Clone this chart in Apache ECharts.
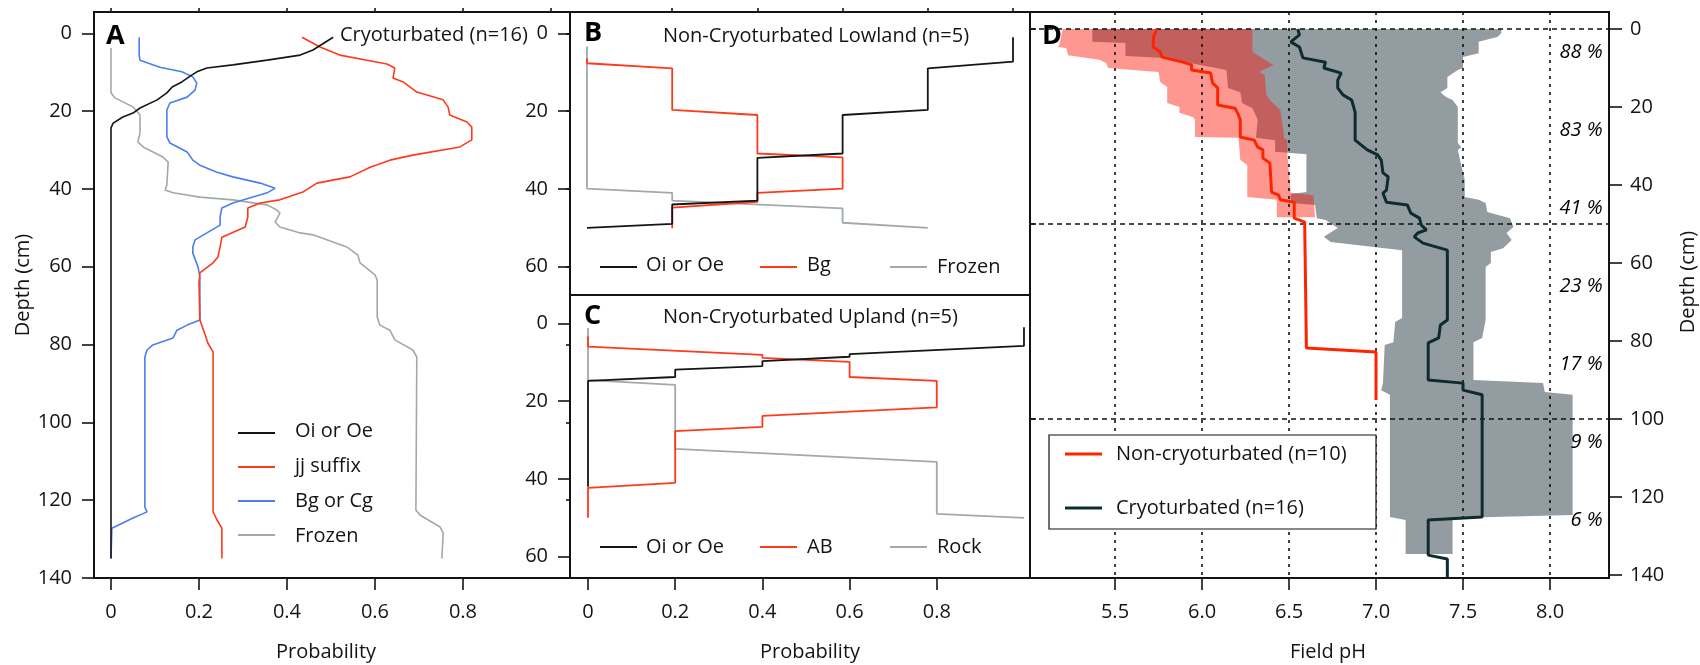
<!DOCTYPE html>
<html>
<head>
<meta charset="utf-8">
<script src="https://cdn.jsdelivr.net/npm/echarts@6/dist/echarts.min.js"></script>
<style>
  html, body { margin: 0; padding: 0; background: #fff; }
  #chart { width: 1700px; height: 665px; }
</style>
</head>
<body>
<div id="chart"></div>
<script>
// ---------- Panel A: cryoturbated profiles, probability of horizon by depth [probability, depth cm]
const cryoOiOe = [[0.505,1],[0.459,4.3],[0.43,5.6],[0.355,6.9],[0.277,8.1],[0.218,8.9],[0.195,9.9],[0.18,11],[0.161,12.5],[0.139,13.8],[0.127,15.3],[0.105,17.1],[0.066,19.2],[0.05,20.5],[0.027,21.5],[0.005,23.1],[0,24.3],[0,135]];
const cryoJj = [[0.434,1],[0.475,3.5],[0.52,5.6],[0.582,6.9],[0.627,7.9],[0.645,8.9],[0.641,11.5],[0.664,12.5],[0.695,15.1],[0.755,17.1],[0.766,18.9],[0.77,21],[0.809,22.8],[0.82,24.1],[0.82,27.4],[0.793,29.2],[0.686,31.3],[0.634,32.6],[0.589,34.4],[0.543,36.9],[0.468,38.5],[0.436,40.8],[0.384,42.8],[0.339,43.6],[0.311,44.9],[0.311,47.2],[0.305,49.8],[0.252,52.4],[0.248,54.9],[0.243,57.5],[0.232,59],[0.202,61.6],[0.2,64.2],[0.202,73.7],[0.214,77.5],[0.22,79.6],[0.232,81.9],[0.232,123],[0.241,125.1],[0.252,127.2],[0.252,135]];
const cryoBgCg = [[0.064,1],[0.064,5.6],[0.066,6.9],[0.111,8.7],[0.161,9.9],[0.186,11.2],[0.195,12.8],[0.191,14.6],[0.173,16.4],[0.134,17.9],[0.127,19.7],[0.127,26.6],[0.134,28.2],[0.173,30.5],[0.186,32.6],[0.202,33.9],[0.241,35.7],[0.277,36.9],[0.339,38.5],[0.373,39.8],[0.355,41],[0.277,43.6],[0.252,44.9],[0.248,47.2],[0.248,49.3],[0.218,51.3],[0.191,53.1],[0.186,54.9],[0.186,56.5],[0.198,60.1],[0.202,62.6],[0.202,73.7],[0.173,75],[0.15,76.3],[0.141,78.3],[0.095,80.1],[0.082,81.4],[0.077,83.2],[0.077,121.8],[0.082,123],[0.05,124.6],[0.002,127.2],[0,135]];
const cryoFrozen = [[0,3.8],[0,15.3],[0.009,16.6],[0.05,18.9],[0.066,21],[0.066,25.6],[0.061,27.9],[0.073,29.2],[0.118,31.8],[0.13,33.1],[0.127,39],[0.123,40.3],[0.141,41],[0.202,42.1],[0.277,42.8],[0.355,44.1],[0.377,45.4],[0.384,46.2],[0.373,48.5],[0.384,49.8],[0.43,51.3],[0.459,51.8],[0.536,54.9],[0.561,57],[0.566,59],[0.6,62.1],[0.605,63.4],[0.605,72.9],[0.611,75],[0.634,76.3],[0.645,78.8],[0.686,81.4],[0.695,83.2],[0.693,122.5],[0.702,123.8],[0.748,126.9],[0.755,128.4],[0.752,135]];

// ---------- Panel B: non-cryoturbated lowland
const lowOiOe = [[1,1],[1,7.3],[0.8,9],[0.8,19.7],[0.6,21],[0.6,30.9],[0.4,32],[0.4,43],[0.2,44],[0.2,49],[0,50]];
const lowBg = [[0,6.4],[0,7.7],[0.2,9],[0.2,19.7],[0.4,21],[0.4,30.9],[0.6,31.9],[0.6,39.9],[0.4,41],[0.4,43.3],[0.2,44.8],[0.2,50.1]];
const lowFrozen = [[0,3.4],[0,39.9],[0.2,41],[0.2,43],[0.6,45],[0.6,48.7],[0.8,50]];

// ---------- Panel C: non-cryoturbated upland
const upOiOe = [[1,1],[1,5.8],[0.6,7.9],[0.6,8.6],[0.4,9.7],[0.4,11],[0.2,11.9],[0.2,13.8],[0,14.8],[0,42]];
const upAB = [[0,3.4],[0,6],[0.4,8.1],[0.4,8.9],[0.6,9.9],[0.6,13.8],[0.8,14.8],[0.8,21.6],[0.4,23.8],[0.4,26.6],[0.2,27.7],[0.2,41],[0,42.3],[0,50]];
const upRock = [[0,1.2],[0,14.6],[0.2,15.8],[0.2,32.3],[0.8,35.6],[0.8,49],[1,50]];

// ---------- Panel D: field pH by depth [pH, depth cm]
const nonCryoMedian = [[5.74,0],[5.72,2.3],[5.72,4.6],[5.76,5.9],[5.77,7.2],[5.89,8.5],[5.94,9.2],[5.94,10.5],[6.05,11.3],[6.06,13.8],[6.09,15.1],[6.09,19.5],[6.19,20.3],[6.21,22.1],[6.22,23.3],[6.22,27.7],[6.30,28.5],[6.32,30.3],[6.35,31],[6.35,33.1],[6.39,34.4],[6.40,41.8],[6.44,42.6],[6.45,43.8],[6.53,44.4],[6.53,48.5],[6.59,49.5],[6.60,81.8],[7.00,82.8],[7.00,95.1]];
const nonCryoLow = [[5.20,0],[5.18,4.1],[5.17,4.6],[5.22,4.9],[5.23,6.7],[5.41,7.9],[5.45,8.7],[5.46,10],[5.75,11],[5.76,13.6],[5.80,14.9],[5.80,19],[5.87,20],[5.87,21.5],[5.95,22.6],[5.96,23.3],[5.96,27.7],[6.21,27.9],[6.22,33.6],[6.26,34.9],[6.26,43.1],[6.43,43.8],[6.43,48.3]];
const nonCryoHigh = [[6.29,0],[6.29,5.9],[6.32,6.7],[6.41,9.2],[6.33,11],[6.36,11.8],[6.37,16.9],[6.39,18.2],[6.45,20.8],[6.47,26.7],[6.47,27.9],[6.49,28.5],[6.49,31.8],[6.51,42],[6.64,42.6],[6.65,48.3]];
const cryoMedian = [[6.55,0],[6.56,1.5],[6.51,3.3],[6.56,4.6],[6.58,7.4],[6.71,8.5],[6.70,10],[6.80,11.3],[6.78,13.1],[6.78,15.1],[6.81,16.9],[6.86,18.2],[6.88,21.3],[6.88,28.5],[6.95,31],[7.01,32.3],[7.03,33.6],[7.04,36.9],[7.07,37.9],[7.06,41.3],[7.04,42.1],[7.06,44.4],[7.18,45.1],[7.20,47.2],[7.25,48.5],[7.26,50.3],[7.29,51.5],[7.24,52.3],[7.22,53.3],[7.27,54.9],[7.41,56.7],[7.41,74.6],[7.37,75.9],[7.36,79.2],[7.30,80.5],[7.30,90],[7.50,90.8],[7.50,92.6],[7.61,93.8],[7.61,125.1],[7.30,125.9],[7.30,134.9],[7.41,135.9],[7.41,140.5]];
const cryoLow = [[5.37,0],[5.37,3.3],[5.56,3.6],[5.56,6.9],[5.76,7.4],[5.96,9],[6.14,10.5],[6.15,15.1],[6.22,16.2],[6.23,19],[6.29,20.3],[6.32,23.3],[6.31,27.9],[6.42,28.5],[6.42,31.5],[6.60,32.1],[6.60,41.8],[6.51,42.3],[6.51,44.6],[6.65,45.1],[6.66,48.5],[6.71,49],[6.78,51],[6.70,53.3],[6.74,54.6],[7.15,56.7],[7.15,74.1],[7.11,75.1],[7.10,80.3],[7.05,81],[7.04,90.8],[7.03,92.6],[7.08,93.8],[7.08,125.1],[7.17,125.9],[7.17,134.6]];
const cryoHigh = [[7.72,0],[7.72,1],[7.70,2],[7.59,3.3],[7.59,6.2],[7.50,7.2],[7.50,10],[7.47,10.5],[7.41,12.3],[7.41,15.1],[7.37,16.2],[7.40,17.4],[7.44,18.2],[7.47,20],[7.47,29.2],[7.49,30.3],[7.47,31],[7.50,36.9],[7.51,38.7],[7.51,43.1],[7.59,43.8],[7.63,44.6],[7.64,46.9],[7.77,48.5],[7.79,50.8],[7.75,52.3],[7.78,54.1],[7.73,56.2],[7.66,57.2],[7.66,60],[7.63,61],[7.63,74.6],[7.61,79.2],[7.56,80.3],[7.56,90],[7.96,90.8],[7.97,93.1],[8.13,93.8],[8.13,124.6],[7.44,125.4],[7.44,134.6]];
const pctLabels = ['88 %', '83 %', '41 %', '23 %', '17 %', '9 %', '6 %'];
const pctDepths = [6, 26, 46, 66, 86, 106, 126];

// ---------- tick values
const probTicks = [0, 0.2, 0.4, 0.6, 0.8];
const probTopTicks = [0, 0.2, 0.4, 0.6, 0.8, 1.0];
const lowTopTicks = [0.2, 0.4, 0.6, 0.8, 1.0];
const depthTicks = [0, 20, 40, 60, 80, 100, 120, 140];
const shortDepthTicks = [0, 20, 40, 60];
const pHTicks = [5.5, 6.0, 6.5, 7.0, 7.5, 8.0];
const refDepths = [0, 50, 100];

// ---------- styling
const FONT = '"Open Sans", "Noto Sans", sans-serif';
const INK = '#141414';
const C_BLACK = '#151515', C_RED = '#ff3a1a', C_BLUE = '#4b7ef0', C_GREY = '#a0aaa7';
const C_PH_RED = '#ff2400', C_PH_DARK = '#0e2c2c';
const labelStyle = { fontSize: 20, fontFamily: FONT, color: INK };

function valueAxis(opts) {
  return Object.assign({
    type: 'value',
    axisLine: { show: false, onZero: false },
    splitLine: { show: false },
    axisTick: { show: false },
    axisLabel: { show: false }
  }, opts);
}
function ticks(values, len, inside) {
  return { show: true, customValues: values, length: len, inside: !!inside, lineStyle: { color: INK, width: 1.6 } };
}
function labels(values, margin, formatter) {
  return Object.assign({ show: true, customValues: values, margin: margin, formatter: formatter }, labelStyle);
}
const probFmt = v => (v === 0 ? '0' : v.toFixed(1));
const intFmt = v => String(Math.round(v));

function line(name, data, color, width, xi, yi, z) {
  return {
    name, type: 'line', data, xAxisIndex: xi, yAxisIndex: yi,
    showSymbol: false, symbol: 'none', silent: true, z: z || 3,
    lineStyle: { color, width }
  };
}
function band(name, lo, hi, fill, z) {
  return {
    name, type: 'custom', xAxisIndex: 4, yAxisIndex: 4, z, silent: true,
    data: [[6.5, 50]],
    renderItem: function (params, api) {
      const pts = lo.map(p => api.coord(p)).concat(hi.slice().reverse().map(p => api.coord(p)));
      return { type: 'polygon', shape: { points: pts }, style: { fill } };
    }
  };
}
function txt(text, x, y, extra) {
  return Object.assign({
    type: 'text', x, y, z: 100, silent: true,
    style: Object.assign({ text, fontSize: 20, fontFamily: FONT, fill: INK, align: 'left', verticalAlign: 'middle' }, (extra && extra.style) || {})
  }, extra && extra.rotation !== undefined ? { rotation: extra.rotation } : {});
}
function seg(x1, x2, y, color, w) {
  return { type: 'line', z: 100, silent: true, shape: { x1, y1: y, x2, y2: y }, style: { stroke: color, lineWidth: w } };
}

const gridBox = { show: true, borderColor: INK, borderWidth: 2, backgroundColor: 'transparent' };

const option = {
  animation: false,
  backgroundColor: '#fff',
  grid: [
    Object.assign({ left: 94, top: 12, width: 476, height: 566 }, gridBox),
    Object.assign({ left: 570, top: 12, width: 460, height: 283 }, gridBox),
    Object.assign({ left: 570, top: 295, width: 460, height: 283 }, gridBox),
    Object.assign({ left: 1030, top: 12, width: 579, height: 566 }, gridBox)
  ],
  xAxis: [
    valueAxis({ gridIndex: 0, position: 'bottom', min: -0.0386, max: 1.0432,
      axisTick: ticks(probTicks, 12), axisLabel: labels(probTicks, 24, probFmt) }),
    valueAxis({ gridIndex: 0, position: 'top', min: -0.0386, max: 1.0432,
      axisTick: ticks(probTopTicks, 4) }),
    valueAxis({ gridIndex: 1, position: 'top', min: -0.0399, max: 1.0399,
      axisTick: ticks(lowTopTicks, 4) }),
    valueAxis({ gridIndex: 2, position: 'bottom', min: -0.0413, max: 1.0138,
      axisTick: ticks(probTicks, 12), axisLabel: labels(probTicks, 24, probFmt) }),
    valueAxis({ gridIndex: 3, position: 'bottom', min: 5.0115, max: 8.339,
      axisTick: ticks(pHTicks, 12), axisLabel: labels(pHTicks, 24, v => v.toFixed(1)) })
  ],
  yAxis: [
    valueAxis({ gridIndex: 0, position: 'left', inverse: true, min: -5.48, max: 140,
      axisTick: ticks(depthTicks, 12), axisLabel: labels(depthTicks, 22, intFmt) }),
    valueAxis({ gridIndex: 0, position: 'right', inverse: true, min: -5.48, max: 140,
      axisTick: ticks(depthTicks, 4, true) }),
    valueAxis({ gridIndex: 1, position: 'left', inverse: true, min: -5.48, max: 67.27,
      axisTick: ticks(shortDepthTicks, 12), axisLabel: labels(shortDepthTicks, 22, intFmt) }),
    valueAxis({ gridIndex: 2, position: 'left', inverse: true, min: -7.28, max: 65.47,
      axisTick: ticks(shortDepthTicks, 12), axisLabel: labels(shortDepthTicks, 22, intFmt) }),
    valueAxis({ gridIndex: 3, position: 'left', inverse: true, min: -4.36, max: 140.77,
      axisTick: ticks(refDepths, 6, true) }),
    valueAxis({ gridIndex: 3, position: 'right', inverse: true, min: -4.36, max: 140.77,
      axisTick: ticks(depthTicks, 13), axisLabel: labels(depthTicks, 21, intFmt) })
  ],
  series: [
    // A
    line('Frozen', cryoFrozen, C_GREY, 1.6, 0, 0),
    line('Bg or Cg', cryoBgCg, C_BLUE, 1.6, 0, 0),
    line('jj suffix', cryoJj, C_RED, 1.6, 0, 0),
    line('Oi or Oe', cryoOiOe, C_BLACK, 1.6, 0, 0),
    // B
    line('Frozen', lowFrozen, C_GREY, 1.8, 2, 2),
    line('Bg', lowBg, C_RED, 1.8, 2, 2),
    line('Oi or Oe', lowOiOe, C_BLACK, 1.8, 2, 2),
    // C
    line('Rock', upRock, C_GREY, 1.8, 3, 3),
    line('AB', upAB, C_RED, 1.8, 3, 3),
    line('Oi or Oe', upOiOe, C_BLACK, 1.8, 3, 3),
    // D: ranges
    band('Cryoturbated range', cryoLow, cryoHigh, '#939ca1', 2),
    band('Non-cryoturbated range', nonCryoLow, nonCryoHigh, 'rgba(255,24,10,0.45)', 3),
    // D: reference grid
    {
      name: 'reference', type: 'line', xAxisIndex: 4, yAxisIndex: 4, data: [], z: 4, silent: true,
      markLine: {
        silent: true, symbol: 'none', animation: false, label: { show: false },
        data: pHTicks.map(v => ({ xAxis: v, lineStyle: { type: [3, 5], color: '#111', width: 1.6 } }))
          .concat(refDepths.map(v => ({ yAxis: v, lineStyle: { type: [5, 4], color: '#111', width: 1.6 } })))
      }
    },
    // D: medians
    line('Non-cryoturbated (n=10)', nonCryoMedian, C_PH_RED, 3, 4, 4, 6),
    line('Cryoturbated (n=16)', cryoMedian, C_PH_DARK, 3, 4, 4, 6),
    {
      name: 'share', type: 'scatter', xAxisIndex: 4, yAxisIndex: 4, z: 7, silent: true,
      symbol: 'circle', symbolSize: 1,
      itemStyle: { opacity: 0 },
      data: pctDepths.map(d => [8.305, d]),
      label: {
        show: true, position: 'left', distance: 0, opacity: 1,
        formatter: p => pctLabels[p.dataIndex],
        fontSize: 20, fontFamily: FONT, fontStyle: 'italic', color: '#000'
      }
    }
  ],
  graphic: [
    // axis titles
    txt('Depth (cm)', 23, 285, { rotation: Math.PI / 2, style: { align: 'center' } }),
    txt('Depth (cm)', 1688, 282, { rotation: Math.PI / 2, style: { align: 'center' } }),
    txt('Probability', 326, 652, { style: { align: 'center' } }),
    txt('Probability', 810, 652, { style: { align: 'center' } }),
    txt('Field pH', 1328, 652, { style: { align: 'center' } }),
    // panel letters and titles
    txt('A', 106, 36, { style: { fontSize: 27, fontWeight: 'bold', fill: '#000' } }),
    txt('B', 584, 33, { style: { fontSize: 27, fontWeight: 'bold', fill: '#000' } }),
    txt('C', 584, 316, { style: { fontSize: 27, fontWeight: 'bold', fill: '#000' } }),
    txt('D', 1042, 36, { style: { fontSize: 27, fontWeight: 'bold', fill: '#000' } }),
    txt('Cryoturbated (n=16)', 340, 35),
    txt('Non-Cryoturbated Lowland (n=5)', 663, 36),
    txt('Non-Cryoturbated Upland (n=5)', 663, 317),
    // legend A
    seg(238, 275, 433, C_BLACK, 2), txt('Oi or Oe', 295, 431),
    seg(238, 275, 467, C_RED, 2), txt('jj suffix', 295, 466),
    seg(238, 275, 501, C_BLUE, 2), txt('Bg or Cg', 295, 501),
    seg(238, 275, 535, C_GREY, 2), txt('Frozen', 295, 536),
    // legend B
    seg(600, 637, 267, C_BLACK, 2), txt('Oi or Oe', 646, 265),
    seg(760, 797, 267, C_RED, 2), txt('Bg', 807, 265),
    seg(890, 927, 267, C_GREY, 2), txt('Frozen', 937, 267),
    // legend C
    seg(600, 637, 547, C_BLACK, 2), txt('Oi or Oe', 646, 547),
    seg(760, 797, 547, C_RED, 2), txt('AB', 807, 547),
    seg(890, 927, 547, C_GREY, 2), txt('Rock', 937, 547),
    // legend D
    { type: 'rect', z: 99, silent: true, shape: { x: 1049, y: 435, width: 327, height: 94 },
      style: { fill: '#fff', stroke: '#111', lineWidth: 1.2 } },
    seg(1065, 1102, 454, C_PH_RED, 3), txt('Non-cryoturbated (n=10)', 1116, 454),
    seg(1065, 1102, 508, C_PH_DARK, 3), txt('Cryoturbated (n=16)', 1116, 508)
  ]
};

const chart = echarts.init(document.getElementById('chart'), null, { renderer: 'canvas' });
chart.setOption(option);
</script>
</body>
</html>
